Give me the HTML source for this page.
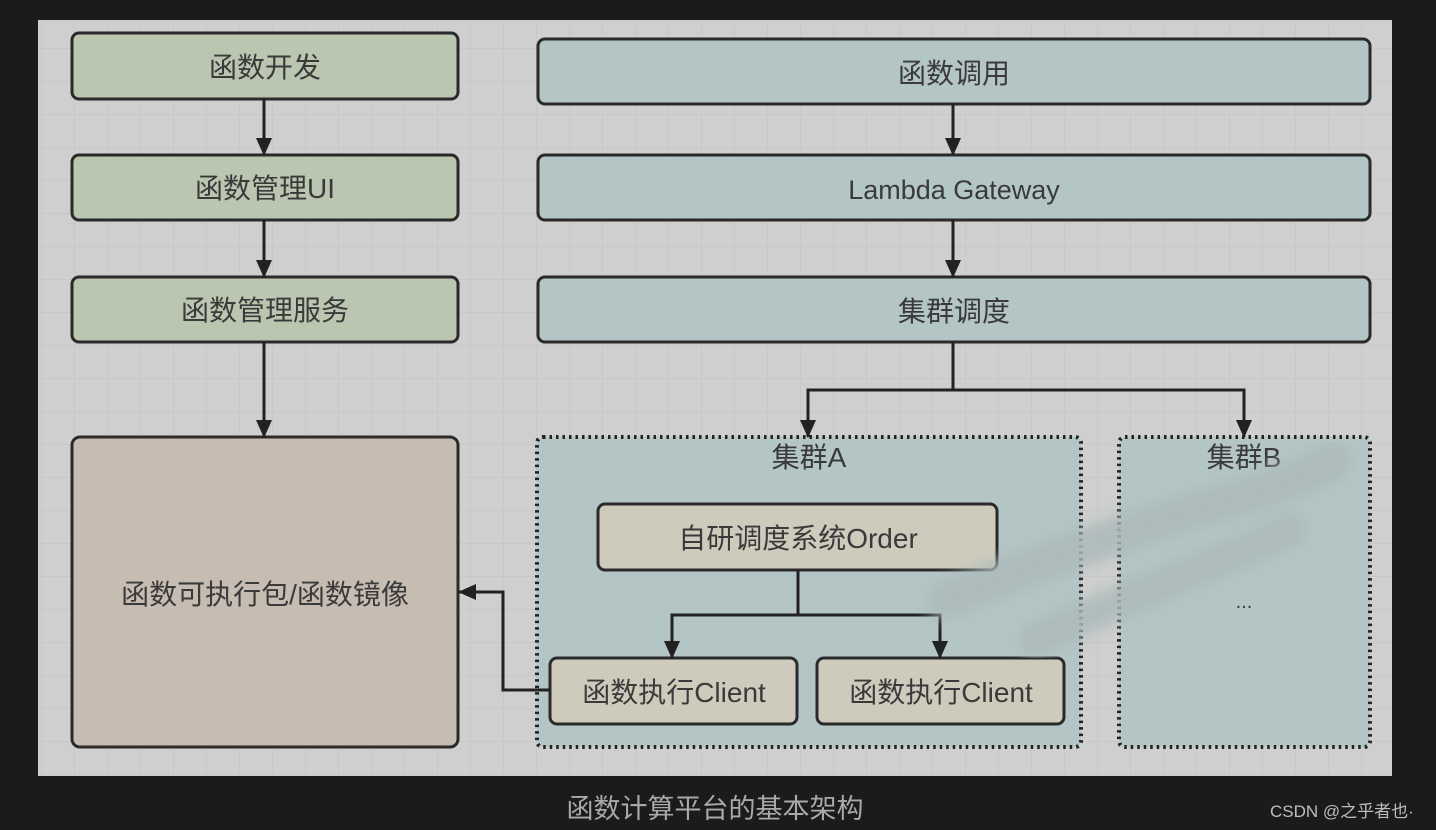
<!DOCTYPE html>
<html><head><meta charset="utf-8"><style>
html,body{margin:0;padding:0;background:#1b1b1b;width:1436px;height:830px;overflow:hidden}
svg{display:block}
text{font-family:"Liberation Sans","Noto Sans CJK SC",sans-serif;fill:#3a3a3a}
</style></head><body>
<svg width="1436" height="830" xmlns="http://www.w3.org/2000/svg">
<defs>
<pattern id="g" x="8" y="15" width="33" height="33" patternUnits="userSpaceOnUse">
<path d="M0 0H33M0 0V33" stroke="#c2c2c2" stroke-width="1.2" fill="none"/>
</pattern>
<marker id="a" markerWidth="18" markerHeight="16" refX="17" refY="8" orient="auto" markerUnits="userSpaceOnUse">
<path d="M0 0L18 8L0 16z" fill="#222"/>
</marker>
<filter id="b"><feGaussianBlur stdDeviation="7"/></filter>
</defs>
<rect x="38" y="20" width="1354" height="756" fill="#cfcfcf"/>
<rect x="38" y="20" width="1354" height="756" fill="url(#g)"/>
<g stroke="#2a2a2a" stroke-width="3">
<rect x="72" y="33" width="386" height="66" rx="7" fill="#bac6b0"/>
<rect x="72" y="155" width="386" height="65" rx="7" fill="#bac6b0"/>
<rect x="72" y="277" width="386" height="65" rx="7" fill="#bac6b0"/>
<rect x="72" y="437" width="386" height="310" rx="8" fill="#c6bcb2"/>
<rect x="538" y="39" width="832" height="65" rx="7" fill="#b4c5c5"/>
<rect x="538" y="155" width="832" height="65" rx="7" fill="#b4c5c5"/>
<rect x="538" y="277" width="832" height="65" rx="7" fill="#b4c5c5"/>
</g>
<g stroke="#222" stroke-width="4" stroke-dasharray="2.5 4" fill="#b4c5c5">
<rect x="537" y="437" width="544" height="310" rx="6"/>
<rect x="1119" y="437" width="251" height="310" rx="6"/>
</g>
<g stroke="#2a2a2a" stroke-width="3">
<rect x="598" y="504" width="399" height="66" rx="7" fill="#cecbbd"/>
<rect x="550" y="658" width="247" height="66" rx="7" fill="#cecbbd"/>
<rect x="817" y="658" width="247" height="66" rx="7" fill="#cecbbd"/>
</g>
<g stroke="#222" stroke-width="3" fill="none" marker-end="url(#a)">
<path d="M264 99V155"/><path d="M264 220V277"/><path d="M264 342V437"/>
<path d="M953 104V155"/><path d="M953 220V277"/>
<path d="M953 342V390H808V437"/><path d="M953 390H1244V437"/>
<path d="M798 570V615H672V658"/><path d="M798 615H940V658"/>
<path d="M550 690H503V592H459"/>
</g>
<g font-size="28" text-anchor="middle">
<text x="265" y="77">函数开发</text>
<text x="265" y="198">函数管理UI</text>
<text x="265" y="320">函数管理服务</text>
<text x="265" y="604">函数可执行包/函数镜像</text>
<text x="954" y="83">函数调用</text>
<text x="954" y="199" font-size="27">Lambda Gateway</text>
<text x="954" y="321">集群调度</text>
<text x="809" y="467">集群A</text>
<text x="1244" y="467">集群B</text>
<text x="798" y="548">自研调度系统Order</text>
<text x="674" y="702">函数执行Client</text>
<text x="941" y="702">函数执行Client</text>
<text x="1244" y="608" font-size="20">...</text>
</g>
<g filter="url(#b)" stroke="#acbab9" stroke-linecap="round" fill="none" opacity="0.85">
<path d="M945 600C1050 560 1150 520 1250 495C1310 475 1340 460 1330 460" stroke-width="38"/>
<path d="M1035 640C1120 600 1200 570 1290 530" stroke-width="34"/>
</g>
<text x="715" y="818" font-size="27" text-anchor="middle" style="fill:#a9a9a9">函数计算平台的基本架构</text>
<text x="1270" y="817" font-size="17" style="fill:#bdbdbd">CSDN @之乎者也·</text>
</svg>
</body></html>
